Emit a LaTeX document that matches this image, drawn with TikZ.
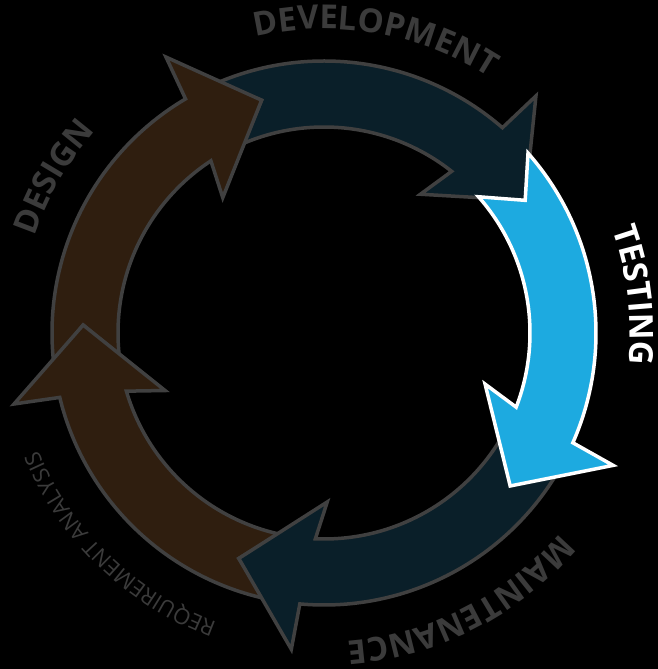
\documentclass[tikz,border=0pt]{standalone}
\usepackage{fontspec}
\usetikzlibrary{decorations.text}
\newfontfamily\phasefont{Open Sans}
\definecolor{designbrown}{HTML}{2F1E0F}
\definecolor{devteal}{HTML}{0A1F29}
\definecolor{testblue}{HTML}{1DAAE0}
\definecolor{rimgray}{HTML}{404040}
\definecolor{labelgray}{HTML}{3B3B3B}
\newcommand{\Ro}{272pt}
\newcommand{\Ri}{206pt}
\newcommand{\boldlabel}{\phasefont\bfseries\fontsize{33}{36}\selectfont}
\newcommand{\thinlabel}{\phasefont\fontsize{22}{24}\selectfont}
\newcommand{\phasearrow}[4]{%
  \filldraw[phase, fill=#3, draw=#4]
    ({#1}:\Ro) arc[start angle={#1}, end angle={#2+15.6}, radius=\Ro]
    -- ({#2+14.8}:318pt) -- ({#2}:241pt) -- ({#2+21.8}:169pt) -- ({#2+18.3}:\Ri)
    arc[start angle={#2+18.3}, end angle={#1}, radius=\Ri]
    -- ({#1-8}:241pt) -- cycle;}
\newcommand{\phaselabel}[5]{%
  \path[decorate, decoration={text along path, text align=center, text color=#4,
    text={|#3|#5}}] ({#1+70}:#2) arc[start angle={#1+70}, end angle={#1-70}, radius=#2];}
\tikzset{
  phase/.style={line width=3.5pt, line join=miter}
}

\begin{document}
\begin{tikzpicture}
\fill[black] (-324pt,-336pt) rectangle (334pt,333pt);
\useasboundingbox (-324pt,-336pt) rectangle (334pt,333pt);

\phasearrow{113}{33.4}{devteal}{rimgray}
\phasearrow{186.1}{105}{designbrown}{rimgray}
\phasearrow{257.3}{178.1}{designbrown}{rimgray}
\phasearrow{-31.4}{-110.7}{devteal}{rimgray}
\phasearrow{41.4}{-39.4}{testblue}{white}

\phaselabel{80}{304pt}{\boldlabel}{labelgray}{DEVELOPMENT}
\phaselabel{150}{305pt}{\boldlabel}{labelgray}{DESIGN}
\phaselabel{7}{306pt}{\boldlabel}{white}{TESTING}
\phaselabel{-63}{309pt}{\boldlabel}{labelgray}{MAINTENANCE}
\phaselabel{226}{309pt}{\thinlabel}{labelgray}{REQUIREMENT ANALYSIS}
\end{tikzpicture}
\end{document}
